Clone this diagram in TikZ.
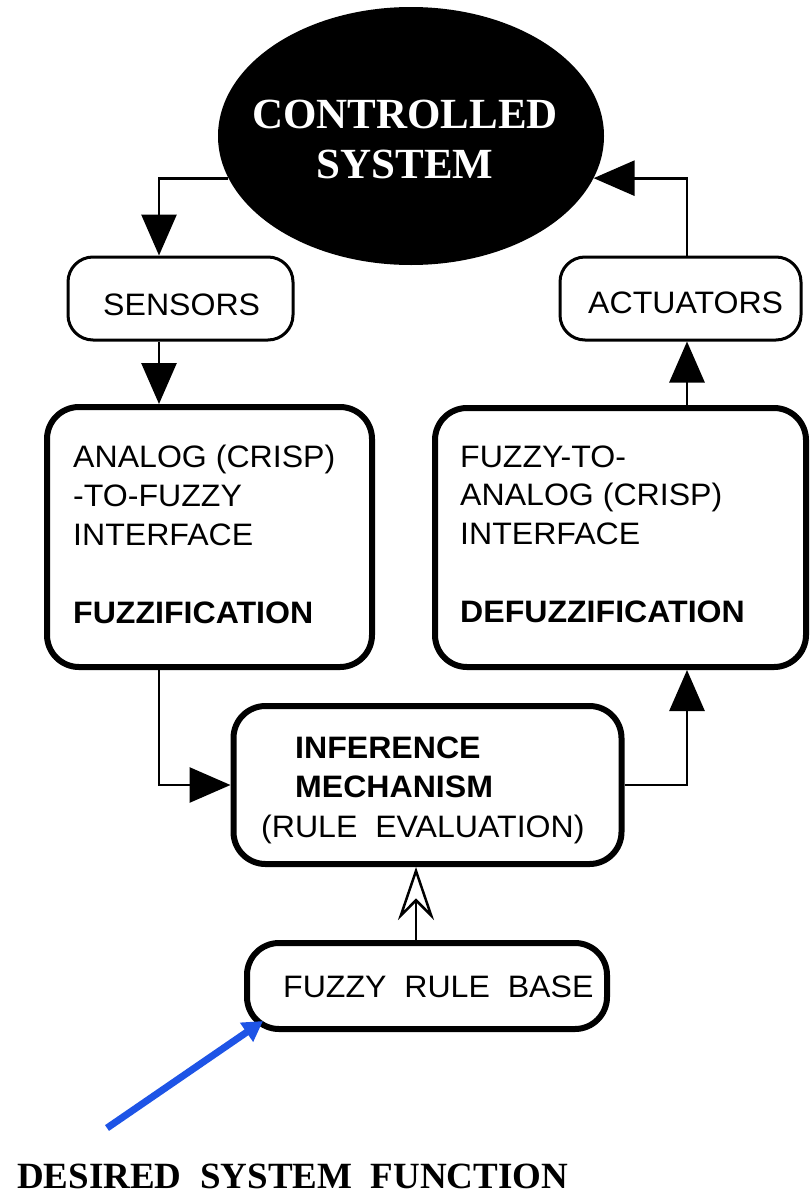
\documentclass[tikz,border=0pt]{standalone}
\usepackage{fontspec}
\setmainfont{Liberation Sans}[FakeStretch=1.035]
\newfontfamily\tnr{Liberation Serif}
\usetikzlibrary{shapes.geometric,arrows.meta}
\definecolor{arrblue}{RGB}{30,84,230}
\begin{document}
\begin{tikzpicture}[x=1pt,y=-1pt,
  sbox/.style={draw, line width=3pt, rounded corners=25pt, inner sep=0pt},
  bbox/.style={draw, line width=6pt, rounded corners=32pt, inner sep=0pt},
  conn/.style={line width=2.8pt, -{Triangle[length=41pt,width=35pt]}},
  txt/.style={anchor=base west, inner sep=0pt, font=\fontsize{31}{38}\selectfont},
  btxt/.style={anchor=base west, inner sep=0pt, font=\fontsize{31}{38}\selectfont\bfseries},
  ttxt/.style={inner sep=0pt, font=\tnr\fontsize{43}{50}\selectfont\bfseries},
]
\useasboundingbox (0,0) rectangle (811,1194);

% reference x positions of vertical connectors
\coordinate (lx) at (159,0);
\coordinate (rx) at (687,0);
\coordinate (ax) at (416,0);

% controlled system
\node[ellipse, fill=black, minimum width=386pt, minimum height=258pt, inner sep=0pt] (cs) at (411,136) {};
\node[ttxt, text=white, anchor=base] (cs1) at (405,128) {CONTROLLED};
\node[ttxt, text=white, anchor=base] (cs2) at (405,178) {SYSTEM};

% boxes
\node[sbox, minimum width=225pt, minimum height=83pt] (sens) at (180.5,298.5) {};
\node[sbox, minimum width=241pt, minimum height=83pt] (act) at (680.5,298.5) {};
\node[bbox, minimum width=325pt, minimum height=260pt] (fuzz) at (209.5,537) {};
\node[bbox, minimum width=371pt, minimum height=259pt] (defuzz) at (620.5,537.5) {};
\node[bbox, minimum width=388pt, minimum height=158pt] (inf) at (427.5,785) {};
\node[bbox, minimum width=360pt, minimum height=86pt] (rb) at (427,986) {};

% texts
\node[txt] (senst) at (103,315) {SENSORS};
\node[txt] (actt) at (588,313) {ACTUATORS};

\node[txt] (f1) at (73,467) {ANALOG (CRISP)};
\node[txt] (f2) at (73,506) {-TO-FUZZY};
\node[txt] (f3) at (73,545) {INTERFACE};
\node[btxt] (f4) at (73,623) {FUZZIFICATION};

\node[txt] (d1) at (460,467) {FUZZY-TO-};
\node[txt] (d2) at (460,505) {ANALOG (CRISP)};
\node[txt] (d3) at (460,544) {INTERFACE};
\node[btxt] (d4) at (460,622) {DEFUZZIFICATION};

\node[btxt] (i1) at (295,758) {INFERENCE};
\node[btxt] (i2) at (295,797) {MECHANISM};
\node[txt] (i3) at (261,837) {(RULE\ \ EVALUATION)};

\node[txt] (rbt) at (283,997) {FUZZY\ \ RULE\ \ BASE};

\node[ttxt, anchor=base west, font=\tnr\fontsize{37}{44}\selectfont\bfseries] (dsft) at (17,1188) {DESIRED\ \ SYSTEM\ \ FUNCTION};

% connectors
\draw[conn] (cs.193) -| (sens.north -| lx);
\draw[conn] (sens.south -| lx) -- (fuzz.north -| lx);
\draw[conn] (fuzz.south -| lx) |- (inf.west);
\draw[conn] (inf.east) -| (defuzz.south -| rx);
\draw[conn] (defuzz.north -| rx) -- (act.south -| rx);
\draw[conn] (act.north -| rx) |- (cs.347);
\draw[line width=2.5pt, -{Stealth[open, fill=white, length=53pt, width=36pt, inset=18pt]}] (rb.north -| ax) -- (inf.south -| ax);

% desired system function arrow
\coordinate (dsf) at (107,1128);
\draw[line width=7pt, arrblue, -{Triangle[length=20pt,width=22pt]}] (dsf) -- ([shift={(19,-11)}]rb.south west);
\end{tikzpicture}
\end{document}
